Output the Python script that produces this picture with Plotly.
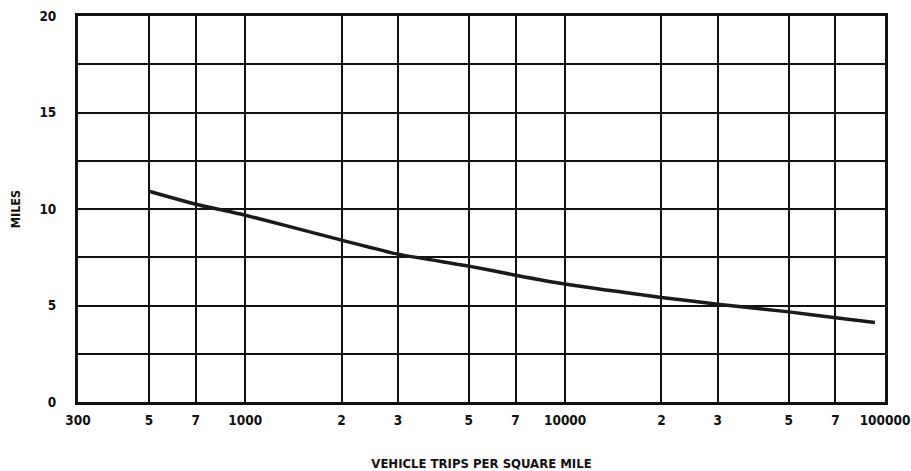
import plotly.graph_objects as go

# Data
trips = [500, 700, 1000, 2000, 3000, 5000, 7000, 10000, 20000, 30000, 50000, 70000, 93000]
miles = [10.92, 10.25, 9.68, 8.39, 7.66, 7.04, 6.57, 6.11, 5.42, 5.07, 4.67, 4.36, 4.12]

x_tick_vals = [300, 500, 700, 1000, 2000, 3000, 5000, 7000, 10000, 20000, 30000, 50000, 70000, 100000]
x_tick_text = ["300", "5", "7", "1000", "2", "3", "5", "7", "10000", "2", "3", "5", "7", "100000"]
y_tick_vals = [0, 5, 10, 15, 20]

FONT = "DejaVu Sans Condensed"

fig = go.Figure()
fig.add_trace(go.Scatter(
    x=trips, y=miles, mode="lines",
    line=dict(color="#1a1a1a", width=3.5, shape="spline", smoothing=0.6),
    showlegend=False, hoverinfo="x+y",
))

fig.update_layout(
    width=911, height=471,
    margin=dict(l=78, r=26, t=16, b=69),
    paper_bgcolor="white", plot_bgcolor="white",
    font=dict(family=FONT, color="#111111", size=13, weight="bold"),
    xaxis=dict(
        type="log", range=[2.4771, 5.0], automargin=False,
        tickvals=x_tick_vals, ticktext=x_tick_text,
        showgrid=True, gridcolor="#111111", gridwidth=2,
        showline=True, linecolor="#111111", linewidth=3, mirror=True,
        ticks="", zeroline=False, ticklabelstandoff=4,
        ticklabeloverflow="allow",
        tickfont=dict(family=FONT, size=13.5, weight="bold"),
        title=dict(text="VEHICLE TRIPS PER SQUARE MILE", standoff=45,
                   font=dict(family=FONT, size=13, weight="bold")),
    ),
    yaxis=dict(
        range=[0, 20], tickvals=y_tick_vals, automargin=False,
        showgrid=True, gridcolor="#111111", gridwidth=2,
        minor=dict(dtick=2.5, showgrid=True, gridcolor="#111111", gridwidth=2),
        showline=True, linecolor="#111111", linewidth=3, mirror=True,
        ticks="", zeroline=False, ticklabelstandoff=16,
        ticklabeloverflow="allow",
        tickfont=dict(family=FONT, size=13.5, weight="bold"),
        title=dict(text="MILES", standoff=17,
                   font=dict(family=FONT, size=12.5, weight="bold")),
    ),
)

# remove the browser's default 8px body margin so the figure fills the window
fig.write_html("out.html", config={"displayModeBar": False},
               post_script="document.body.style.margin='0';")
